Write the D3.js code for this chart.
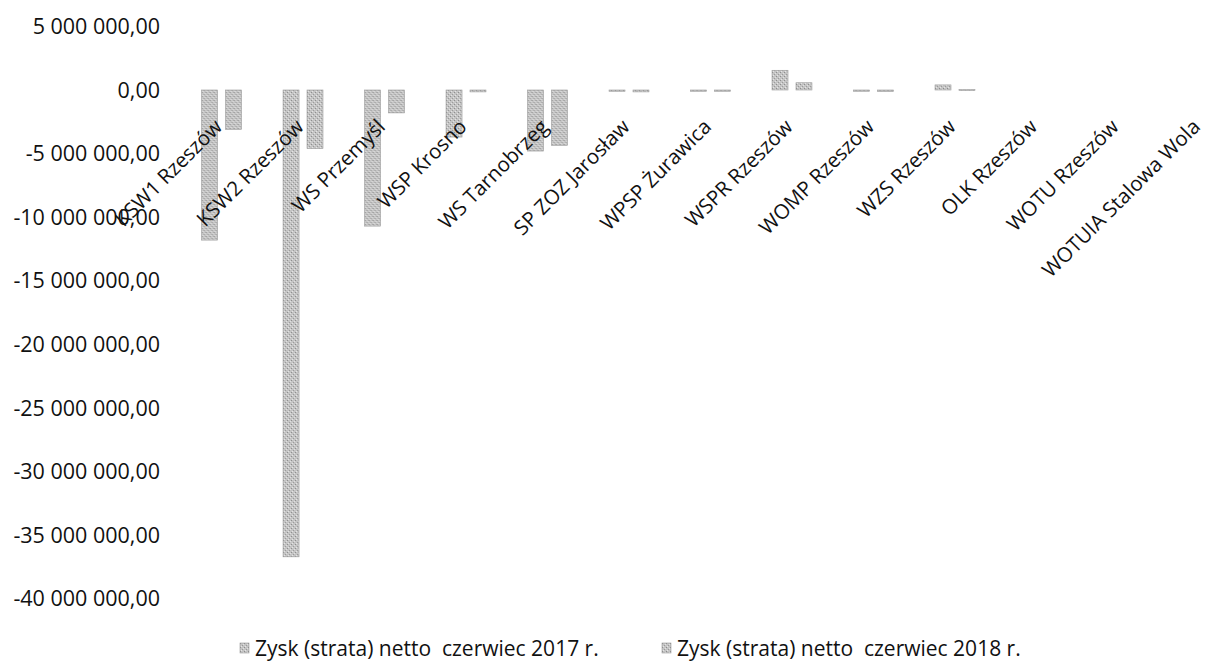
<!DOCTYPE html>
<html>
<head>
<meta charset="utf-8">
<script src="https://cdn.jsdelivr.net/npm/d3@7"></script>
<style>
  body { margin: 0; background: #fff; }
  text { font-family: "Open Sans", Lato, sans-serif; fill: #111; }
</style>
</head>
<body>
<svg id="chart" width="1206" height="662"></svg>
<script>
var categories = ["KSW1 Rzeszów", "KSW2 Rzeszów", "WS Przemyśl", "WSP Krosno", "WS Tarnobrzeg",
  "SP ZOZ Jarosław", "WPSP Żurawica", "WSPR Rzeszów", "WOMP Rzeszów", "WZS Rzeszów",
  "OLK Rzeszów", "WOTU Rzeszów", "WOTUIA Stalowa Wola"]
var seriesNames = ["Zysk (strata) netto  czerwiec 2017 r.", "Zysk (strata) netto  czerwiec 2018 r."]
var values2017 = [-11800000, -36700000, -10700000, -3700000, -4800000, -100000, -100000,
  1550000, -100000, 400000, 0, 0, 0]
var values2018 = [-3100000, -4600000, -1800000, -150000, -4350000, -150000, -100000,
  570000, -120000, 40000, 0, 0, 0]
var yTicks = [5000000, 0, -5000000, -10000000, -15000000, -20000000, -25000000,
  -30000000, -35000000, -40000000]

var svg = d3.select("#chart")

// grainy grey fill, like the scanned bars
var defs = svg.append("defs")
var pat = defs.append("pattern").attr("id", "grain")
  .attr("width", 4).attr("height", 4).attr("patternUnits", "userSpaceOnUse")
pat.append("rect").attr("width", 4).attr("height", 4).attr("fill", "#c4c4c4")
pat.append("rect").attr("x", 0).attr("y", 0).attr("width", 1).attr("height", 1).attr("fill", "#8c8c8c")
pat.append("rect").attr("x", 2).attr("y", 2).attr("width", 1).attr("height", 1).attr("fill", "#9a9a9a")
pat.append("rect").attr("x", 3).attr("y", 1).attr("width", 1).attr("height", 1).attr("fill", "#e2e2e2")
pat.append("rect").attr("x", 1).attr("y", 3).attr("width", 1).attr("height", 1).attr("fill", "#e6e6e6")

var x0 = d3.scaleBand().domain(categories).range([160, 1261]).padding(0.51)
var x1 = d3.scaleBand().domain([0, 1]).range([0, x0.bandwidth()]).paddingInner(0.333)
var y = d3.scaleLinear().domain([-40000000, 5000000]).range([598.8, 26.4])

var locale = d3.formatLocale({decimal: ",", thousands: "\u00a0", grouping: [3], currency: ["", ""], minus: "-"})
var fmt = locale.format(",.2f")

// y tick labels (no axis line in the original)
svg.append("g").selectAll("text").data(yTicks).join("text")
  .attr("x", 160).attr("y", function(d) { return y(d) }).attr("dy", "0.35em")
  .attr("text-anchor", "end").style("font-size", "21.5px")
  .text(function(d) { return fmt(d) })

// bars
var rows = categories.map(function(c, i) { return {cat: c, vals: [values2017[i], values2018[i]]} })
var groups = svg.append("g").selectAll("g").data(rows).join("g")
  .attr("transform", function(d) { return "translate(" + x0(d.cat) + ",0)" })
groups.selectAll("rect").data(function(d) { return d.vals.map(function(v, k) { return {k: k, v: v} }) })
  .join("rect")
  .filter(function(d) { return d.v !== 0 })
  .attr("x", function(d) { return x1(d.k) })
  .attr("width", x1.bandwidth())
  .attr("y", function(d) { return y(Math.max(0, d.v)) })
  .attr("height", function(d) { return Math.max(1, Math.abs(y(d.v) - y(0))) })
  .attr("fill", "url(#grain)")
  .attr("stroke", "#9a9a9a").attr("stroke-width", 0.6)

// category labels, rotated
svg.append("g").selectAll("text").data(categories).join("text")
  .attr("text-anchor", "end").style("font-size", "20.5px")
  .attr("transform", function(d) {
    return "translate(" + (x0(d) + x0.bandwidth() / 2 + 2) + ",128) rotate(-45)"
  })
  .text(function(d) { return d })

// legend
var legendX = [240, 662]
var leg = svg.append("g").selectAll("g").data(seriesNames).join("g")
  .attr("transform", function(d, i) { return "translate(" + legendX[i] + ",643)" })
leg.append("rect").attr("width", 9).attr("height", 10)
  .attr("fill", "url(#grain)").attr("stroke", "#9a9a9a").attr("stroke-width", 0.6)
leg.append("text").attr("x", 15).attr("y", 13).style("font-size", "21px")
  .attr("xml:space", "preserve").style("white-space", "pre")
  .text(function(d) { return d })
</script>
</body>
</html>
